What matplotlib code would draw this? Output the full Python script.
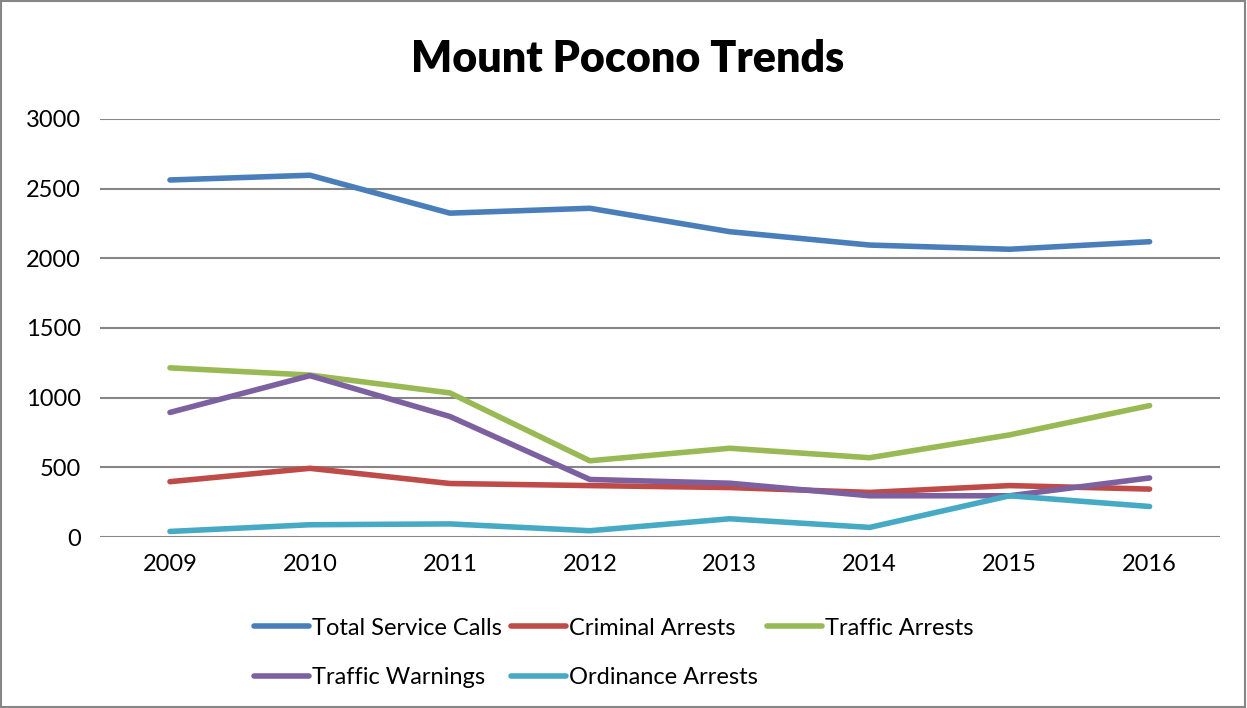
import matplotlib.pyplot as plt
from matplotlib.patches import Rectangle

years = ["2009", "2010", "2011", "2012", "2013", "2014", "2015", "2016"]
total_service_calls = [2562, 2596, 2324, 2359, 2191, 2095, 2065, 2119]
criminal_arrests = [397, 493, 384, 369, 355, 320, 369, 344]
traffic_arrests = [1214, 1162, 1034, 547, 637, 569, 733, 943]
traffic_warnings = [894, 1158, 865, 413, 386, 296, 296, 424]
ordinance_arrests = [40, 88, 94, 45, 131, 69, 296, 219]

plt.rcParams['font.family'] = ['Lato', 'DejaVu Sans']

fig = plt.figure(figsize=(12.47, 7.08), dpi=100)
ax = fig.add_axes([0.0802, 0.2415, 0.8978, 0.5905])

x = range(len(years))
series = [
    ("Total Service Calls", total_service_calls, "#4A7EBB"),
    ("Criminal Arrests", criminal_arrests, "#BE4B48"),
    ("Traffic Arrests", traffic_arrests, "#98B954"),
    ("Traffic Warnings", traffic_warnings, "#7D60A0"),
    ("Ordinance Arrests", ordinance_arrests, "#46AAC5"),
]
lines = []
for name, vals, col in series:
    ln, = ax.plot(x, vals, color=col, lw=4, solid_capstyle='round', label=name)
    lines.append(ln)

ax.set_xlim(-0.5, len(years) - 0.5)
ax.set_ylim(0, 3000)
ax.set_yticks(range(0, 3001, 500))
ax.set_xticks(list(x))
ax.set_xticklabels(years)
ax.tick_params(length=0, labelsize=17, pad=12)
ax.tick_params(axis='y', pad=14)
ax.grid(axis='y', color='#868686', lw=1.5)
ax.set_axisbelow(True)
for s in ax.spines.values():
    s.set_visible(False)

# title
fig.text(0.503, 0.917, "Mount Pocono Trends", ha='center', va='center',
         fontsize=31, fontweight='heavy')

# legend, reordered so it reads row by row
order = [0, 3, 1, 4, 2]
leg = fig.legend([lines[i] for i in order], [series[i][0] for i in order],
                 ncol=3, loc='center', bbox_to_anchor=(0.492, 0.078),
                 frameon=False, fontsize=17, handlelength=2.33,
                 handletextpad=0.12, columnspacing=0.4, labelspacing=1.2)

fig.patches.append(Rectangle((0.001, 0.002), 0.997, 0.996, transform=fig.transFigure,
                             fill=False, edgecolor='#868686', lw=1.5))

plt.savefig('out.png', dpi=100)
